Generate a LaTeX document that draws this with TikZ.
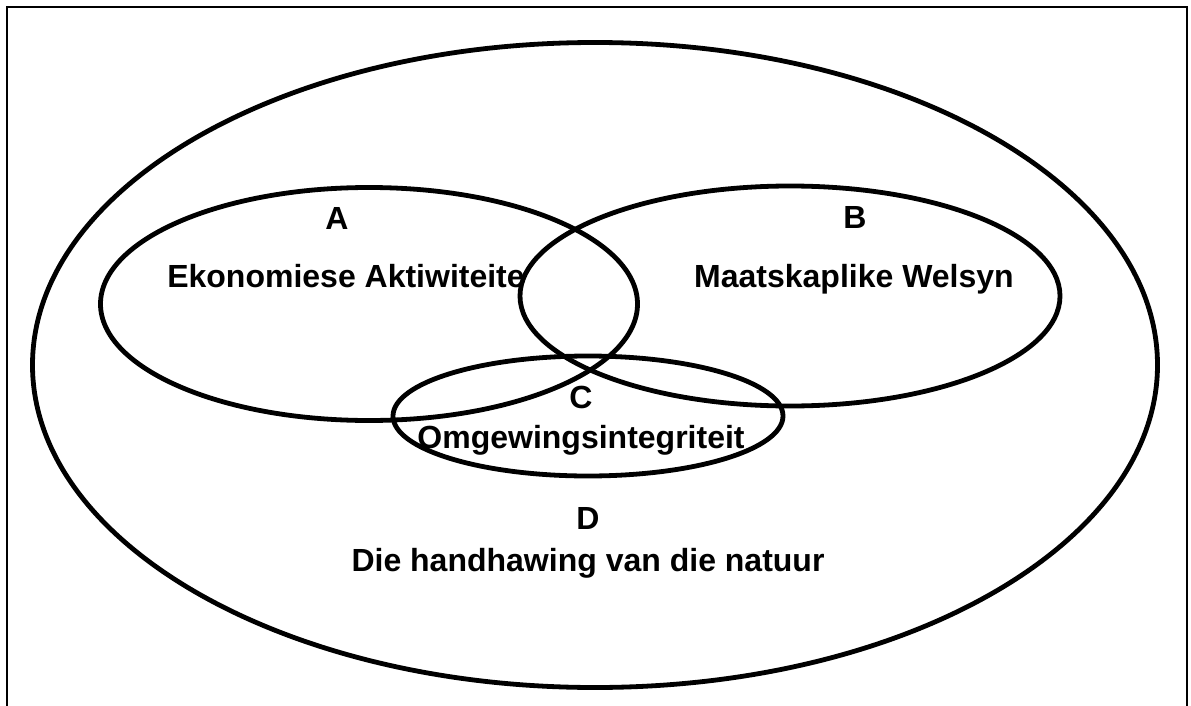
\documentclass[tikz,border=0pt]{standalone}
\usepackage{fontspec}
\setmainfont{Liberation Sans}
\usepackage{xcolor}
\definecolor{cLine}{HTML}{000000}
\usepackage{tikz}
\usetikzlibrary{positioning,shapes.geometric}
\tikzset{
  set-ellipse/.style={draw=cLine,line width=4.8pt,ellipse,inner sep=0pt},
  set-letter/.style={font=\fontsize{32}{36}\selectfont\bfseries,inner sep=0pt,anchor=base},
  set-name/.style={font=\fontsize{32}{36}\selectfont\bfseries,inner sep=0pt,anchor=base},
  frame-line/.style={draw=cLine,line width=2.8pt},
}
\begin{document}
\begin{tikzpicture}[x=1pt,y=-1pt]
  \useasboundingbox (0,0) rectangle (1191,706);
  % raam, onder oop
  \coordinate (fbl) at (7,706);
  \coordinate (ftl) at (7,7);
  \coordinate (ftr) at (1187,7);
  \coordinate (fbr) at (1187,706);
  \draw[frame-line] (fbl) -- (ftl) -- (ftr) -- (fbr);
  % die versamelings
  \node[set-ellipse,minimum width=1125pt,minimum height=645pt] (setD) at (595,365) {};
  \node[set-ellipse,minimum width=537pt,minimum height=233pt] (setA) at (369,304) {};
  \node[set-ellipse,minimum width=540pt,minimum height=220pt] (setB) at (790,296) {};
  \node[set-ellipse,minimum width=390pt,minimum height=120pt] (setC) at (588,416) {};
  % byskrifte
  \node[set-letter] (lA) at (337,229) {A};
  \node[set-name] (nA) at (346,287) {Ekonomiese Aktiwiteite};
  \node[set-letter] (lB) at (855,228) {B};
  \node[set-name] (nB) at (854,287) {Maatskaplike Welsyn};
  \node[set-letter] (lC) at (581,408) {C};
  \node[set-name] (nC) at (581,448) {Omgewingsintegriteit};
  \node[set-letter] (lD) at (588,529) {D};
  \node[set-name] (nD) at (588,571) {Die handhawing van die natuur};
\end{tikzpicture}
\end{document}
